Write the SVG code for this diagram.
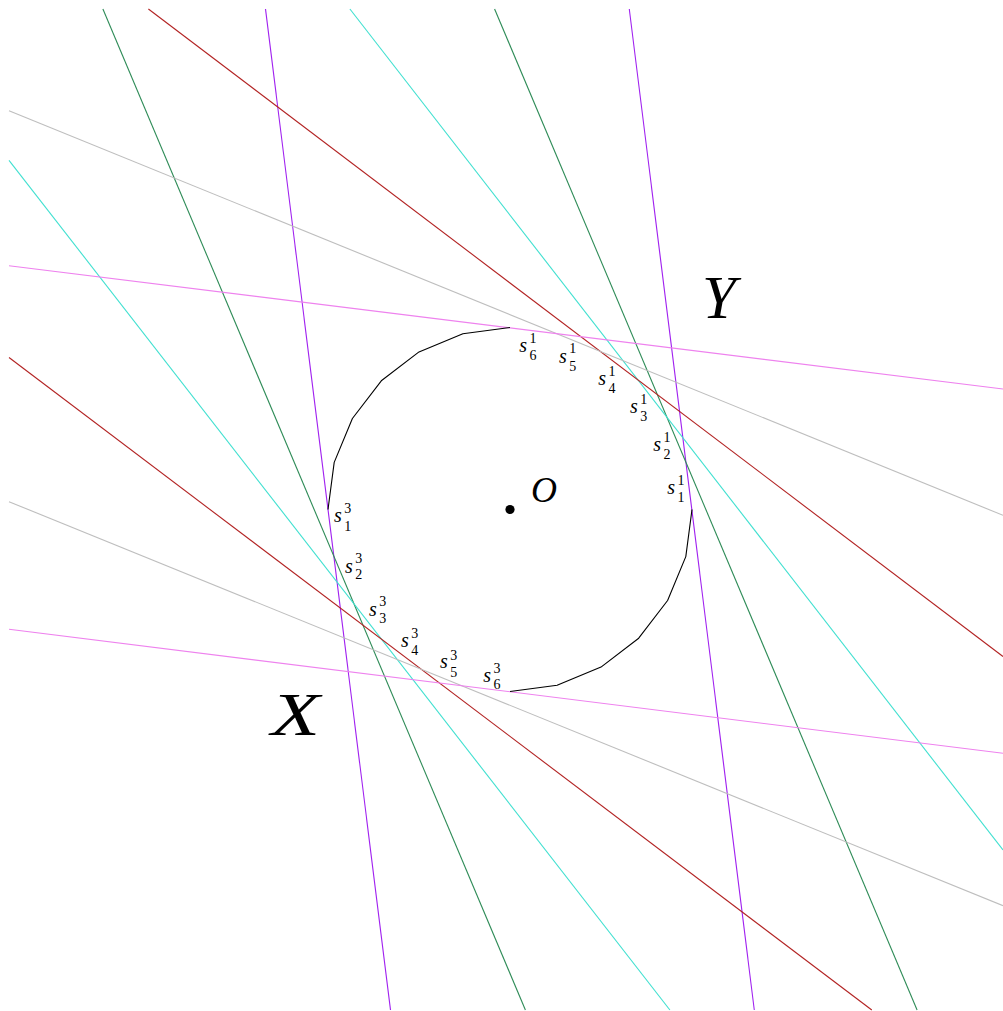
<svg xmlns="http://www.w3.org/2000/svg" width="1003" height="1011" viewBox="0 0 1003 1011">
<style>
.ln{fill:none;stroke-width:1.1}
.pu{stroke:#a020f0}.gr{stroke:#2e8b57}.cy{stroke:#40e0d0}.rd{stroke:#b22222}.gy{stroke:#bebebe}.pk{stroke:#ee82ee}
.poly{fill:none;stroke:#000;stroke-width:1.1;stroke-linejoin:round}
.s{font-family:"Liberation Serif",serif;font-style:italic;font-size:20px;fill:#000}
.d{font-family:"Liberation Serif",serif;font-size:14px;fill:#000}
.big{font-family:"Liberation Serif",serif;font-style:italic;fill:#000}
</style>
<rect width="1003" height="1011" fill="#fff"/>
<g id="lines">
<line class="ln pu" x1="629.3" y1="9" x2="754.3" y2="1010"/>
<line class="ln pu" x1="265.5" y1="9" x2="390.5" y2="1010"/>
<line class="ln gr" x1="494.6" y1="9" x2="917.1" y2="1010"/>
<line class="ln gr" x1="102.9" y1="9" x2="525.4" y2="1010"/>
<line class="ln cy" x1="349.9" y1="9" x2="1003" y2="850"/>
<line class="ln cy" x1="9" y1="160.3" x2="669.9" y2="1010"/>
<line class="ln rd" x1="148.4" y1="9" x2="1003" y2="656.5"/>
<line class="ln rd" x1="9" y1="357.5" x2="871.8" y2="1010"/>
<line class="ln gy" x1="9" y1="110.7" x2="1003" y2="515.3"/>
<line class="ln gy" x1="9" y1="501.7" x2="1003" y2="905.7"/>
<line class="ln pk" x1="9" y1="265.7" x2="1003" y2="389"/>
<line class="ln pk" x1="9" y1="629.3" x2="1003" y2="753.3"/>
</g>
<g id="curve">
<polyline class="poly" points="510,327.5 462.9,333.7 419,351.9 381.3,380.8 352.4,418.5 334.2,462.4 328,509.5"/>
<polyline class="poly" points="510,691.5 557.1,685.3 601,667.1 638.7,638.2 667.6,600.5 685.8,556.6 692,509.5"/>
</g>
<g id="O">
<circle cx="510" cy="509.5" r="4.6" fill="#000"/>
<text class="big" x="531" y="501.5" font-size="36">O</text>
</g>
<g id="Y"><text class="big" x="702" y="317.5" font-size="61">Y</text></g>
<g id="X"><text class="big" x="271" y="735" font-size="61" textLength="49" lengthAdjust="spacingAndGlyphs">X</text></g>
<g id="labels1">
<g id="s61"><text class="s" x="519.3" y="352.3">s</text><text class="d" x="529.5" y="342.8">1</text><text class="d" x="529.5" y="360">6</text></g>
<g id="s51"><text class="s" x="559" y="362.7">s</text><text class="d" x="569.2" y="353.2">1</text><text class="d" x="569.2" y="370.5">5</text></g>
<g id="s41"><text class="s" x="598.3" y="385">s</text><text class="d" x="608.5" y="375.5">1</text><text class="d" x="608.5" y="392.7">4</text></g>
<g id="s31"><text class="s" x="630" y="413.3">s</text><text class="d" x="640.2" y="403.8">1</text><text class="d" x="640.2" y="421.3">3</text></g>
<g id="s21"><text class="s" x="653.3" y="451">s</text><text class="d" x="663.5" y="441.5">1</text><text class="d" x="663.5" y="459">2</text></g>
<g id="s11"><text class="s" x="667.3" y="494">s</text><text class="d" x="677.5" y="484.5">1</text><text class="d" x="677.5" y="501.5">1</text></g>
</g>
<g id="labels3">
<g id="s13"><text class="s" x="334" y="521.7">s</text><text class="d" x="344.2" y="512.7">3</text><text class="d" x="344.2" y="530.5">1</text></g>
<g id="s23"><text class="s" x="345" y="572.7">s</text><text class="d" x="355.2" y="563.3">3</text><text class="d" x="355.2" y="579.3">2</text></g>
<g id="s33"><text class="s" x="369" y="616">s</text><text class="d" x="379.2" y="606">3</text><text class="d" x="379.2" y="622.5">3</text></g>
<g id="s43"><text class="s" x="401" y="646.7">s</text><text class="d" x="411.2" y="637.6">3</text><text class="d" x="411.2" y="655">4</text></g>
<g id="s53"><text class="s" x="440" y="668.3">s</text><text class="d" x="450.2" y="660">3</text><text class="d" x="450.2" y="677.3">5</text></g>
<g id="s63"><text class="s" x="483.3" y="681.7">s</text><text class="d" x="493.5" y="672.6">3</text><text class="d" x="493.5" y="689.3">6</text></g>
</g>
</svg>
